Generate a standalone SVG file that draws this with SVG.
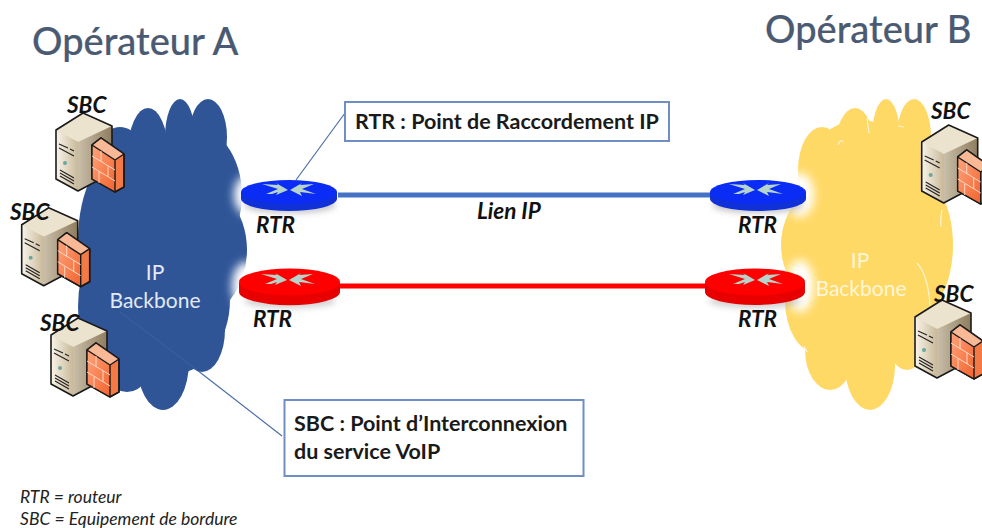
<svg xmlns="http://www.w3.org/2000/svg" width="982" height="528" viewBox="0 0 982 528">
<style>
text{font-family:"Lato","Liberation Sans",sans-serif}
.title{font-size:38px;fill:#4a5a72;font-weight:500;stroke:#4a5a72;stroke-width:.2}
.lab{font-size:22.500px;font-weight:700;font-style:italic;fill:#111}
.box{fill:#fff;stroke:#6f8fc4;stroke-width:2}
.call{font-size:21.500px;font-weight:700;fill:#1a1a1a}
.cloudtxt{font-size:21px;text-anchor:middle}
.note{font-size:17.500px;font-style:italic;fill:#222}
.lead{stroke:#4a6fa8;stroke-width:1.2;fill:none}
.arc{stroke:#fff;stroke-width:1.2;fill:none;opacity:.7}
</style>
<defs>
<filter id="blur" x="-60%" y="-60%" width="220%" height="220%"><feGaussianBlur stdDeviation="5"/></filter>
<filter id="soft" x="-30%" y="-60%" width="160%" height="220%"><feGaussianBlur stdDeviation="3"/></filter>
<linearGradient id="sv" x1="0" x2="1" y1="0" y2="0"><stop offset="0" stop-color="#fbf7ec"/><stop offset="1" stop-color="#c9b99a"/></linearGradient>
<linearGradient id="sd" x1="0" x2="1" y1="0" y2="0"><stop offset="0" stop-color="#f0e9da"/><stop offset="1" stop-color="#8f7d5e"/></linearGradient>
<linearGradient id="fw" x1="0" x2="1" y1="0" y2="1"><stop offset="0" stop-color="#ffa47c"/><stop offset="1" stop-color="#f2632e"/></linearGradient>
<g id="server">
<path d="M28 0L57 13V60L23 78L1 66V17Z" fill="url(#sd)"/>
<path d="M0 17L23 29L57 13L28 0Z" fill="#ece3cf"/>
<path d="M0 17L23 29V78L1 66Z" fill="url(#sv)"/>
<path d="M28 0L57 13V60L23 78L1 66V17Z" fill="none" stroke="#1a1a1a" stroke-width="1.6" stroke-linejoin="round"/>
<path d="M4 31L13 35M15 36L19 38M4 35L19 43M5 57L19 65M5 60L19 68M5 63L19 71" stroke="#222" stroke-width="1.1" fill="none"/>
<circle cx="10" cy="50" r="2" fill="#6aa79c"/>
<path d="M46 25L69 41V74L60 79L37 66V32Z" fill="#f47a45" stroke="#1a1a1a" stroke-width="1.6" stroke-linejoin="round"/>
<path d="M37 32L46 25L69 41L60 47Z" fill="#f9b896"/>
<path d="M37 32L60 47V79L37 66Z" fill="url(#fw)"/>
<path d="M37 32L46 25L69 41V74L60 79L37 66ZM37 32L60 47V79M60 47L69 41" fill="none" stroke="#1a1a1a" stroke-width="1.4" stroke-linejoin="round"/>
<path d="M37 43L60 57M37 54L60 68M46 38V49M53 53V64M44 59V70" stroke="#ffd9c4" stroke-width="1" fill="none"/>
</g>
<g id="arrows">
<path d="M-28 -7L-12 -6L-14 -8L-2 -1L-14 4L-12 1L-18 3L-24 3L-12 -2Z" fill="#b6d4cc"/>
<path d="M24 -7L10 -6L12 -8L0 -1L12 5L10 1L26 3L12 -2Z" fill="#b6d4cc"/>
</g>
</defs>
<rect width="982" height="528" fill="#fff"/>

<g id="connectors">
<line x1="338" y1="195" x2="710" y2="195" stroke="#4472c4" stroke-width="5"/>
<line x1="338" y1="286" x2="706" y2="286" stroke="#ff0000" stroke-width="5"/>
<line class="lead" x1="296" y1="180" x2="345" y2="113"/>
<line class="lead" x1="197" y1="370" x2="282" y2="436"/>
</g>

<g id="cloud-a" fill="#2f5597">
<ellipse cx="180" cy="137" rx="15" ry="38"/>
<ellipse cx="208" cy="137" rx="19" ry="38"/>
<ellipse cx="148" cy="152" rx="20" ry="44"/>
<ellipse cx="120" cy="175" rx="30" ry="48"/>
<ellipse cx="190" cy="195" rx="52" ry="70"/>
<ellipse cx="190" cy="250" rx="57" ry="70"/>
<ellipse cx="125" cy="240" rx="47" ry="90"/>
<ellipse cx="112" cy="307" rx="34" ry="70"/>
<ellipse cx="170" cy="300" rx="60" ry="75"/>
<ellipse cx="202" cy="330" rx="23" ry="42"/>
<ellipse cx="163" cy="362" rx="26" ry="48"/>
<ellipse cx="127" cy="352" rx="28" ry="40"/>
<text class="cloudtxt" x="155" y="280" fill="#e3e9f5">IP</text>
<text class="cloudtxt" x="155" y="308" fill="#e3e9f5">Backbone</text>
<line x1="197" y1="370" x2="120" y2="312" stroke="#3a62a4" stroke-width="1"/>
</g>

<g id="cloud-b" fill="#ffd966">
<ellipse cx="886" cy="137" rx="14" ry="38"/>
<ellipse cx="914" cy="137" rx="17" ry="38"/>
<ellipse cx="855" cy="150" rx="20" ry="42"/>
<ellipse cx="822" cy="170" rx="24" ry="43"/>
<ellipse cx="860" cy="195" rx="62" ry="75"/>
<ellipse cx="905" cy="200" rx="40" ry="70"/>
<ellipse cx="850" cy="245" rx="69" ry="70"/>
<ellipse cx="910" cy="245" rx="43" ry="75"/>
<ellipse cx="815" cy="300" rx="30" ry="52"/>
<ellipse cx="868" cy="305" rx="65" ry="65"/>
<ellipse cx="907" cy="330" rx="22" ry="40"/>
<ellipse cx="870" cy="365" rx="25" ry="45"/>
<ellipse cx="830" cy="350" rx="25" ry="40"/>
<path class="arc" d="M942 210Q940 220 941 227M917 263Q928 275 930 305M838 145Q841 138 843 142M904 127L898 126M869 133L867 118M807 352L804 346"/>
<text class="cloudtxt" x="860" y="268" fill="#fff6d8">IP</text>
<text class="cloudtxt" x="861" y="296" fill="#fff6d8">Backbone</text>
</g>

<g id="server-a1"><use href="#server" x="55" y="113"/><text class="lab" x="67" y="113">SBC</text></g>
<g id="server-a2"><use href="#server" x="20.7" y="207.7"/><text class="lab" x="10" y="220">SBC</text></g>
<g id="server-a3"><use href="#server" x="50" y="318"/><text class="lab" x="40" y="331">SBC</text></g>
<g id="server-b1"><use href="#server" x="920.7" y="125"/><text class="lab" x="931" y="119">SBC</text></g>
<g id="server-b2"><use href="#server" x="914" y="300"/><text class="lab" x="934" y="302">SBC</text></g>

<g id="router-a1">
<ellipse cx="248" cy="195" rx="14" ry="20" fill="#fff" filter="url(#blur)"/>
<ellipse cx="290" cy="205" rx="46" ry="8" fill="#888" opacity=".5" filter="url(#soft)"/>
<path d="M241 192V199A48 12 0 0 0 337 199V192Z" fill="#1030d8"/>
<ellipse cx="289" cy="192" rx="48" ry="12" fill="#0a2cf5"/>
<use href="#arrows" x="290" y="191"/>
<text class="lab" x="256" y="233">RTR</text>
</g>
<g id="router-a2">
<ellipse cx="246" cy="286" rx="14" ry="24" fill="#fff" filter="url(#blur)"/>
<ellipse cx="290" cy="301" rx="46" ry="7" fill="#888" opacity=".4" filter="url(#soft)"/>
<path d="M239 283V292A50 13 0 0 0 340 292V283Z" fill="#e80000"/>
<ellipse cx="289.500" cy="282" rx="50.500" ry="13.500" fill="#ff0000"/>
<use href="#arrows" x="289" y="281"/>
<text class="lab" x="253" y="327">RTR</text>
</g>
<g id="router-b1">
<ellipse cx="800" cy="195" rx="14" ry="22" fill="#fff" filter="url(#blur)"/>
<ellipse cx="758" cy="205" rx="46" ry="8" fill="#888" opacity=".5" filter="url(#soft)"/>
<path d="M710 192V199A48 12 0 0 0 806 199V192Z" fill="#1030d8"/>
<ellipse cx="758" cy="192" rx="48" ry="12" fill="#0a2cf5"/>
<use href="#arrows" x="757" y="191"/>
<text class="lab" x="738" y="233">RTR</text>
</g>
<g id="router-b2">
<ellipse cx="800" cy="286" rx="14" ry="26" fill="#fff" filter="url(#blur)"/>
<ellipse cx="755" cy="301" rx="46" ry="7" fill="#888" opacity=".4" filter="url(#soft)"/>
<path d="M705 283V292A50 13 0 0 0 805 292V283Z" fill="#e80000"/>
<ellipse cx="755" cy="282" rx="50" ry="13.500" fill="#ff0000"/>
<use href="#arrows" x="757" y="281"/>
<text class="lab" x="738" y="327">RTR</text>
</g>

<g id="label-lien"><text class="lab" x="477" y="219" style="font-size:22.500px">Lien IP</text></g>
<g id="callout-rtr"><rect class="box" x="345" y="102" width="324" height="39"/><text class="call" x="355" y="129">RTR : Point de Raccordement IP</text></g>
<g id="callout-sbc"><rect class="box" x="284.500" y="400" width="299" height="76"/><text class="call" x="294" y="431">SBC : Point d’Interconnexion</text><text class="call" x="294" y="459">du service VoIP</text></g>
<g id="titles"><text class="title" x="32" y="55">Opérateur A</text><text class="title" x="765" y="43">Opérateur B</text></g>
<g id="notes"><text class="note" x="20" y="503">RTR = routeur</text><text class="note" x="20" y="525">SBC = Equipement de bordure</text></g>
</svg>
